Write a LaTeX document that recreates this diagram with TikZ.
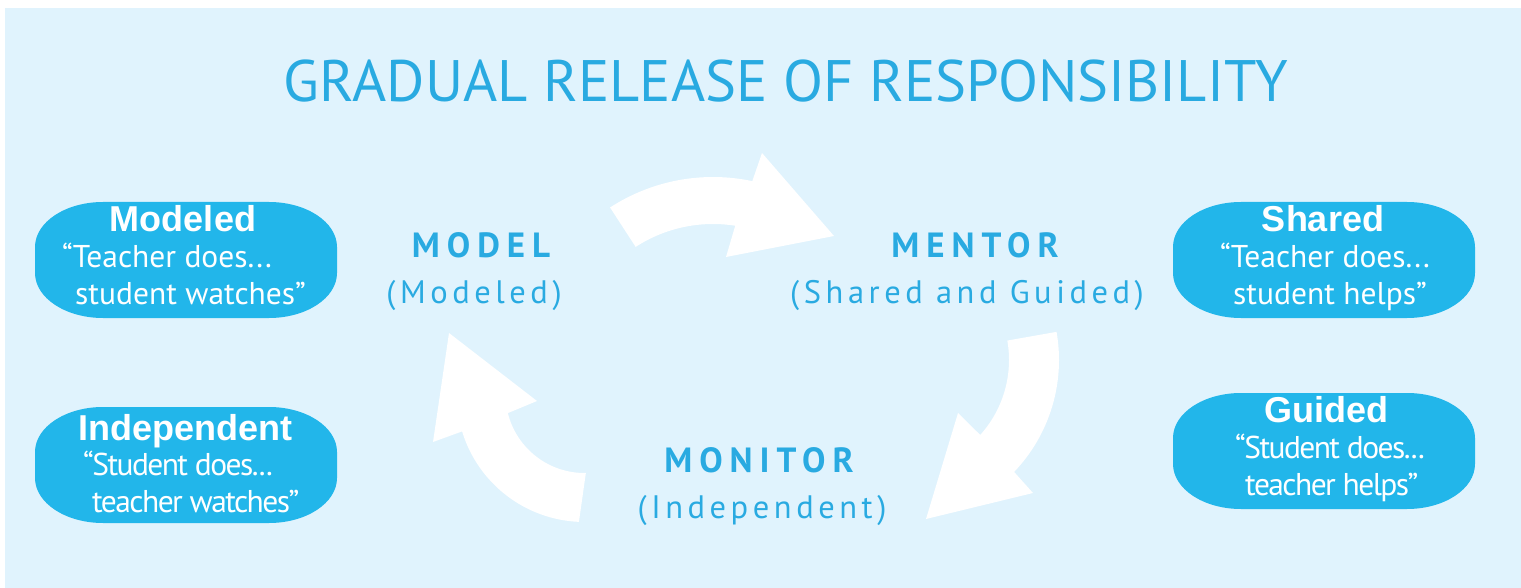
\documentclass[tikz,border=0pt]{standalone}
\usepackage{fontspec}
\setmainfont{PT Sans}
\newfontfamily\pillfont{Liberation Sans}
\definecolor{bgblue}{HTML}{E0F3FD}
\definecolor{pillblue}{HTML}{22B6EA}
\definecolor{textblue}{HTML}{29AAE1}

\begin{document}
\begin{tikzpicture}[x=1pt,y=-1pt,
    pilltitle/.style={anchor=base,inner sep=0pt,text=white,
      font=\pillfont\bfseries\fontsize{36}{36}\selectfont},
    pillline/.style={anchor=base west,inner sep=0pt,text=white,
      font=\fontsize{31.5}{31.5}\selectfont},
    pilltight/.style={pillline,
      font=\fontsize{31.5}{31.5}\selectfont\addfontfeatures{LetterSpace=-5}},
    stagename/.style={anchor=base,inner sep=0pt,text=textblue,
      font=\bfseries\fontsize{35}{35}\selectfont\addfontfeatures{LetterSpace=20}},
    stagesub/.style={anchor=base,inner sep=0pt,text=textblue,
      font=\fontsize{32.5}{32.5}\selectfont\addfontfeatures{LetterSpace=14}}]
  \useasboundingbox (0,0) rectangle (1521,588);

  % ---- background panel ---------------------------
  \fill[bgblue] (5,8) rectangle (1521,588);

  % ---- title --------------------------------------
  \node[anchor=base,inner sep=0pt,text=textblue,font=\fontsize{58.5}{58.5}\selectfont]
    (title) at (786,102) {GRADUAL RELEASE OF RESPONSIBILITY};

  % ---- white cycle arrows (arc bands + heads) -----
  \fill[white] ([shift={(-123:189)}]713,366) arc[start angle=-123,end angle=-78,radius=189]
    -- (762,153) -- (834,236) -- (726,257)
    -- ([shift={(-81:142)}]713,366) arc[start angle=-81,end angle=-123,radius=142] -- cycle;
  \fill[white] ([shift={(-10:162)}]897,360) arc[start angle=-10,end angle=43.7,radius=162]
    -- (1033,493) -- (926,519) -- (958,413)
    -- ([shift={(42:112)}]897,360) arc[start angle=42,end angle=-10,radius=112] -- cycle;
  \fill[white] ([shift={(92.5:128)}]584.5,394) arc[start angle=92.5,end angle=163,radius=128]
    -- (433,442) -- (449,333) -- (537,401)
    -- ([shift={(166:79)}]584.5,394) arc[start angle=166,end angle=89,radius=79] -- cycle;

  % ---- pill boxes (top left corners) --------------
  \foreach \x/\y in {35/202, 35/407, 1173/202, 1173/393} {
    \fill[pillblue] (\x+68,\y) -- (\x+234,\y)
      arc[start angle=-90,end angle=0,x radius=68,y radius=45] -- (\x+302,\y+71)
      arc[start angle=0,end angle=90,x radius=68,y radius=45] -- (\x+68,\y+116)
      arc[start angle=90,end angle=180,x radius=68,y radius=45] -- (\x,\y+45)
      arc[start angle=180,end angle=270,x radius=68,y radius=45] -- cycle;
  }

  % ---- pill texts ---------------------------------
  \node[pilltitle] (modeled) at (183,232) {Modeled};
  \node[pillline] (modeledA) at (62,267) {“Teacher does...};
  \node[pillline] (modeledB) at (75,305) {student watches”};

  \node[pilltitle] (indep) at (185,440) {Independent};
  \node[pilltight] (indepA) at (83,475) {“Student does...};
  \node[pilltight] (indepB) at (92,512) {teacher watches”};

  \node[pilltitle] (shared) at (1323,232) {Shared};
  \node[pillline] (sharedA) at (1220,267) {“Teacher does...};
  \node[pillline] (sharedB) at (1233,305) {student helps”};

  \node[pilltitle] (guided) at (1326,422) {Guided};
  \node[pilltight] (guidedA) at (1235,458) {“Student does...};
  \node[pilltight] (guidedB) at (1245,495) {teacher helps”};

  % ---- stage labels -------------------------------
  \node[stagename] (model) at (481,258) {MODEL};
  \node[stagesub] (modelsub) at (474,303) {(Modeled)};
  \node[stagename] (mentor) at (975,258) {MENTOR};
  \node[stagesub] (mentorsub) at (967,303) {(Shared and Guided)};
  \node[stagename] (monitor) at (759,472) {MONITOR};
  \node[stagesub] (monitorsub) at (762,518) {(Independent)};
\end{tikzpicture}
\end{document}
